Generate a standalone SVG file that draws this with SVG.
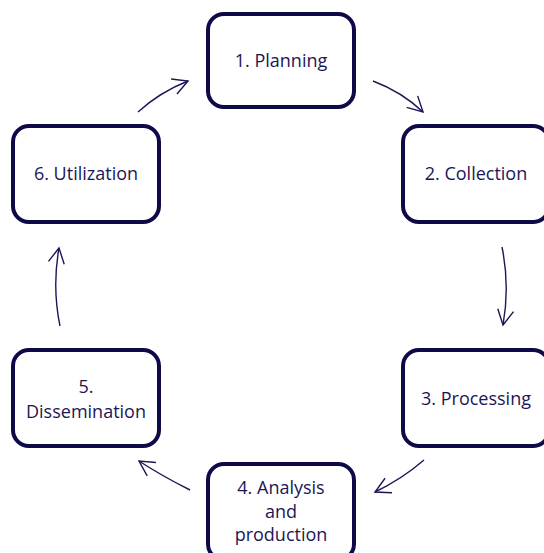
<svg xmlns="http://www.w3.org/2000/svg" width="544" height="553" viewBox="0 0 544 553">
  <style>
    .box { fill: #ffffff; stroke: #0e0a47; stroke-width: 4; }
    .lbl { font-family: "Open Sans", "Noto Sans", sans-serif; font-size: 18px; fill: #1c1656; text-anchor: middle; }
    .arrow { fill: none; stroke: #1c1656; stroke-width: 1.4; marker-end: url(#head); }
  </style>
  <defs>
    <marker id="head" markerUnits="userSpaceOnUse" markerWidth="24" markerHeight="24" viewBox="-18 -12 24 24" refX="0" refY="0" orient="auto" overflow="visible">
      <path d="M -15 -8 L 0 0 L -15 8" fill="none" stroke="#1c1656" stroke-width="1.4" stroke-linejoin="miter"/>
    </marker>
  </defs>
  <rect width="544" height="553" fill="#ffffff"/>

  <g id="connectors">
    <path class="arrow" d="M 373 81 Q 402 92 423 112"/>
    <path class="arrow" d="M 502 247 Q 510 286 503 325"/>
    <path class="arrow" d="M 424 460 Q 402 479 375 492"/>
    <path class="arrow" d="M 190 490 Q 162 476 139 461"/>
    <path class="arrow" d="M 60 326 Q 52 287 59 248"/>
    <path class="arrow" d="M 138 112 Q 160 92 188 81"/>
  </g>

  <g id="planning">
    <rect class="box" x="208" y="14" width="146" height="93" rx="16"/>
    <text class="lbl" x="281" y="67">1. Planning</text>
  </g>
  <g id="collection">
    <rect class="box" x="403" y="126" width="146" height="96" rx="16"/>
    <text class="lbl" x="476" y="180">2. Collection</text>
  </g>
  <g id="processing">
    <rect class="box" x="403" y="350" width="146" height="96" rx="16"/>
    <text class="lbl" x="476" y="405">3. Processing</text>
  </g>
  <g id="analysis">
    <rect class="box" x="208" y="464" width="146" height="96" rx="16"/>
    <text class="lbl" x="281" y="494">4. Analysis</text>
    <text class="lbl" x="281" y="518">and</text>
    <text class="lbl" x="281" y="541">production</text>
  </g>
  <g id="dissemination">
    <rect class="box" x="13" y="350" width="146" height="96" rx="16"/>
    <text class="lbl" x="86" y="393">5.</text>
    <text class="lbl" x="86" y="418">Dissemination</text>
  </g>
  <g id="utilization">
    <rect class="box" x="13" y="126" width="146" height="96" rx="16"/>
    <text class="lbl" x="86" y="180">6. Utilization</text>
  </g>
</svg>
